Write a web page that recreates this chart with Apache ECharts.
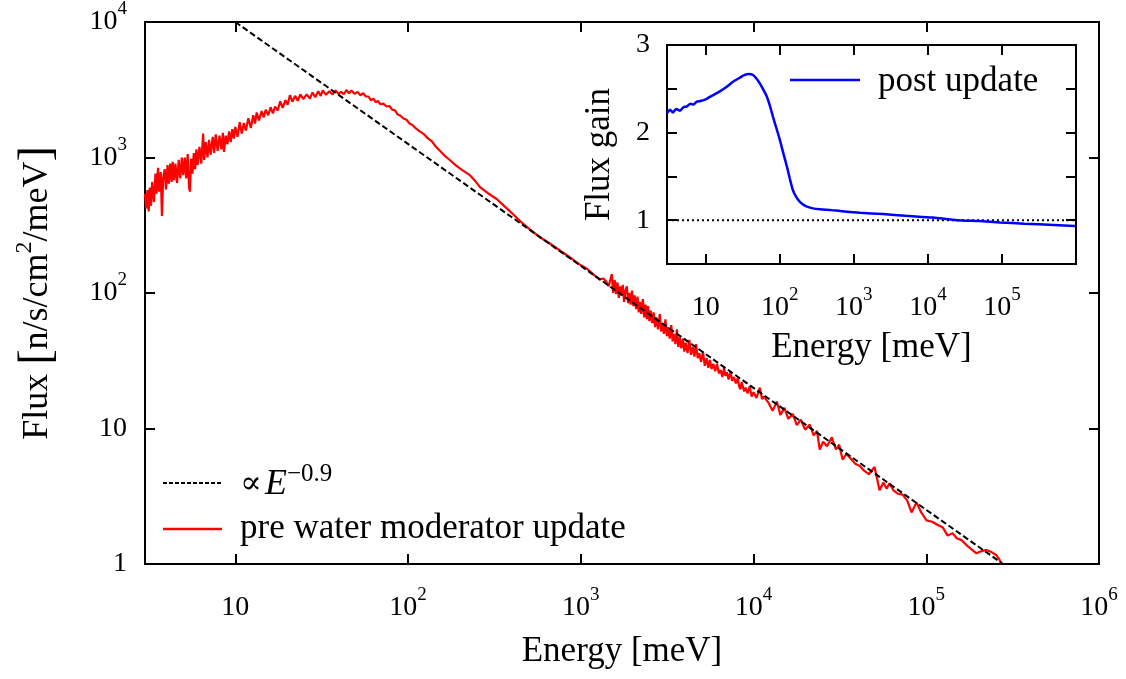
<!DOCTYPE html>
<html><head><meta charset="utf-8">
<script src="https://cdn.jsdelivr.net/npm/echarts@6/dist/echarts.min.js"></script>
<style>html,body{margin:0;padding:0;background:#fff}#c{width:1126px;height:679px}</style>
</head><body><div id="c"></div>
<script>
// ---------- data ----------
// pre-update spectrum, thermal part (3 meV .. 1.35 eV)
const energyPreLow = [3.0,3.05,3.1,3.15,3.2,3.25,3.3,3.38,3.45,3.5,3.57,3.62,3.7,3.76,3.82,3.9,3.97,4.05,4.12,4.2,4.28,4.34,4.42,4.5,4.6,4.7,4.8,4.9,5.0,5.1,5.2,5.3,5.4,5.46,5.55,5.65,5.75,5.85,5.95,6.05,6.2,6.35,6.51,6.6,6.75,6.9,7.05,7.2,7.4,7.55,7.7,7.9,8.1,8.3,8.47,8.6,8.8,9.0,9.2,9.4,9.6,9.8,10.0,10.3,10.6,10.9,11.2,11.5,11.9,12.3,12.7,13.0,13.3,13.7,14.2,14.6,15.0,15.5,16.0,16.5,17.0,17.6,18.2,18.8,19.5,20.1,20.7,21.4,22.2,23.0,23.8,24.7,25.9,27.0,28.0,29.0,30.2,31.2,32.1,
33.5,35,36.5,38,39.5,41,42.5,44,45.5,47,49,51,53,55,57,59,61,63,65,67,69,72,75,78,81,84,87,90,94,98,102,106,111,117,124,130,137,145,153,
163,175,190,205,228,245,261,290,326,365,404,450,507,580,662,756,831,910,988,1086,1200,1289,1350];
const fluxPreLow = [540,420,575,400,600,440,660,470,760,540,840,560,780,370,700,820,580,880,640,900,660,930,680,900,650,960,700,1000,740,1000,700,1060,600,560,980,760,1080,820,1150,880,1200,900,1500,960,1300,1000,1350,1050,1420,1080,1480,1120,1450,1150,1520,1100,1450,1250,1560,1300,1620,1380,1680,1420,1820,1500,1800,1580,1950,1650,2050,1780,2150,1880,2200,1980,2250,2050,2350,2120,2380,2220,2600,2320,2650,2450,2880,2580,2850,2620,2920,2700,2920,2720,3020,2780,3080,2850,3130,
2900,3080,2920,3120,2950,3050,2930,3150,2980,3120,2950,3050,2880,2980,2820,2820,2640,2720,2560,2620,2480,2500,2380,2400,2250,2230,2080,2040,1940,1900,1780,1740,1640,1560,1480,1390,1320,1200,1120,
1030,954,870,810,741,670,605,545,494,432,383,335,295,258,232,206,190,175,162,151,135,126,128];
// epithermal, noisy part (1.4 .. 11.5 eV)
const energyPreMid = [1400,1450,1512,1540,1570,1600,1630,1660,1690,1720,1750,1780,1815,1848,1880,1910,1945,1980,2015,2050,2090,2130,2165,2200,2240,2286,2330,2370,2410,2450,2495,2540,2590,2640,2690,2740,2800,2868,2920,2970,3030,3090,3150,3200,3270,3340,3400,3460,3530,3600,3670,3740,3820,3900,3975,4050,4150,4250,4350,4455,4550,4650,4750,4850,4970,5100,5220,5350,5470,5590,5720,5850,6000,6150,6300,6450,6600,6750,6870,7000,7170,7350,7520,7700,7900,8100,8250,8400,8530,8665,8830,9000,9250,9500,9750,10000,10400,10870,11200,11500];
const fluxPreMid = [122,112,138,100,125,98,120,92,112,96,115,86,105,112,84,100,82,104,80,96,76,94,72,86,70,90,66,82,64,80,62,74,60,72,56,66,54,70,52,60,50,64,48,56,46,58,44,50,42,54,40,47,39,46,37,43,36,45,35,40,34,42,33,36,31,37,29,33,28,32,27.5,30,26.5,30,25.5,27,24,28,24.5,26,23,26.5,22.5,24,21.5,23.5,20.5,19.5,22,22.4,18.8,20,18.2,20.5,17.2,18.5,16.8,20,16.5,17.2];
// high-energy tail (12 .. 273 eV)
const energyPreHigh = [12200,12900,13640,14300,15100,15900,16870,17800,18800,19900,21150,22300,23300,24170,25300,26600,28400,30000,31300,32800,34500,36500,38800,41140,43500,46500,50200,53650,56500,58900,61300,64500,68500,72900,77500,82200,87800,93500,100400,108000,116000,124300,133000,142000,150000,160000,171000,183000,195300,207000,223000,240000,255000,265000,273000];
const fluxPreHigh = [15.5,13.5,15.8,12.6,14.2,11.8,12.8,10.6,11.6,9.8,10.7,8.9,9.6,7.0,8.0,7.4,8.6,7.0,7.6,5.9,6.5,6.0,5.5,5.3,4.9,4.6,5.2,3.5,4.0,3.6,3.95,3.5,3.3,3.25,2.95,2.4,2.85,2.4,2.1,2.05,1.95,1.87,1.62,1.69,1.55,1.5,1.38,1.28,1.2,1.24,1.27,1.22,1.16,1.08,1.0];

// E^-0.9 guide line end points
const energyFit = [10, 278000];
const fluxFit = [10000, 1];

// inset: flux gain after update
const energyGain = [3.0,3.3,3.6,4.0,4.5,5.0,5.6,6.2,6.8,7.5,8.5,10,12,15.5,19,23.3,28,33,38,43,48,54,60,67,74,81,90,100,112,125,137,150,168,187,210,233,280,349,500,650,1210,2475,5000,11700,24650,50000,94000,200000,500000,969000];
const gainPost = [2.22,2.26,2.23,2.27,2.25,2.29,2.30,2.33,2.32,2.35,2.36,2.38,2.42,2.47,2.52,2.58,2.62,2.655,2.67,2.66,2.62,2.56,2.49,2.41,2.30,2.18,2.05,1.92,1.76,1.61,1.47,1.345,1.26,1.21,1.175,1.155,1.135,1.125,1.115,1.105,1.085,1.07,1.05,1.03,1.0,0.99,0.975,0.96,0.945,0.934];

const energyUnity = [3, 1000000];
const gainUnity = [1, 1];

const mainTickExponents = [0, 1, 2, 3, 4, 5, 6];
const insetTickExponents = [1, 2, 3, 4, 5];
const insetGainTicks = [1, 2, 3];

// ---------- styling ----------
const FONT = '"Liberation Serif", "DejaVu Serif", serif';
const rich = {
  b: { fontSize: 28, lineHeight: 44, fontFamily: FONT, color: '#000' },
  s: { fontSize: 19, lineHeight: 22, verticalAlign: 'top', fontFamily: FONT, color: '#000' }
};
function powLabel(allowed) {
  return function (v) {
    const e = Math.log10(v), r = Math.round(e);
    if (Math.abs(e - r) > 1e-6 || allowed.indexOf(r) < 0) return '';
    if (r === 0) return '{b|1}';
    if (r === 1) return '{b|10}';
    return '{b|10}{s|' + r + '}';
  };
}
const zip = (a, b) => a.map((v, i) => [v, b[i]]);
const black = { color: '#000', width: 2 };
const tick = { show: true, inside: true, length: 10, lineStyle: black };

function xAx(grid, pos, labels, extra) {
  return Object.assign({
    gridIndex: grid, type: 'log', min: 3, max: 1e6, position: pos,
    axisLine: { show: true, lineStyle: black }, axisTick: tick, splitLine: { show: false },
    minorTick: { show: false },
    axisLabel: labels ? { show: true, formatter: labels, rich: rich, margin: 22, showMinLabel: false } : { show: false }
  }, extra || {});
}

const preData = zip(energyPreLow, fluxPreLow)
  .concat(zip(energyPreMid, fluxPreMid))
  .concat(zip(energyPreHigh, fluxPreHigh));

const option = {
  animation: false,
  backgroundColor: '#fff',
  grid: [
    { left: 145, top: 19, width: 954, height: 545, show: true, borderColor: '#000', borderWidth: 2, backgroundColor: '#fff' },
    { left: 667, top: 45, width: 409, height: 219, show: true, borderColor: '#000', borderWidth: 2, backgroundColor: '#fff' }
  ],
  xAxis: [
    xAx(0, 'bottom', powLabel(mainTickExponents), {
      name: 'Energy [meV]', nameLocation: 'middle', nameGap: 70,
      nameTextStyle: { fontFamily: FONT, fontSize: 35, color: '#000' }
    }),
    xAx(0, 'top', null),
    xAx(1, 'bottom', powLabel(insetTickExponents), {
      name: 'Energy [meV]', nameLocation: 'middle', nameGap: 66,
      nameTextStyle: { fontFamily: FONT, fontSize: 35, color: '#000' }
    }),
    xAx(1, 'top', null)
  ],
  yAxis: [
    {
      gridIndex: 0, type: 'log', min: 1, max: 1e4, position: 'left',
      axisLine: { show: true, lineStyle: black }, axisTick: tick, splitLine: { show: false },
      axisLabel: { formatter: powLabel([0, 1, 2, 3, 4]), rich: rich, margin: 18 },
      name: '{t|Flux }{br|[}{t|n/s/cm}{s|2}{t|/meV}{br|]}', nameLocation: 'middle', nameGap: 82,
      nameTextStyle: {
        rich: {
          t: { fontFamily: FONT, fontSize: 36, color: '#000', lineHeight: 50 },
          br: { fontFamily: FONT, fontSize: 46, color: '#000', lineHeight: 50 },
          s: { fontFamily: FONT, fontSize: 24, color: '#000', lineHeight: 30, verticalAlign: 'top' }
        }
      }
    },
    {
      gridIndex: 0, type: 'log', min: 1, max: 1e4, position: 'right',
      axisLine: { show: true, lineStyle: black }, axisTick: tick, splitLine: { show: false },
      axisLabel: { show: false }
    },
    {
      gridIndex: 1, type: 'value', min: 0.5, max: 3, interval: 0.5, position: 'left',
      axisLine: { show: true, lineStyle: black }, axisTick: tick, splitLine: { show: false },
      axisLabel: {
        margin: 17, fontFamily: FONT, fontSize: 28, color: '#000',
        formatter: v => (insetGainTicks.indexOf(v) >= 0 ? String(v) : '')
      },
      name: 'Flux gain', nameLocation: 'middle', nameGap: 50,
      nameTextStyle: { fontFamily: FONT, fontSize: 35, color: '#000' }
    },
    {
      gridIndex: 1, type: 'value', min: 0.5, max: 3, interval: 0.5, position: 'right',
      axisLine: { show: true, lineStyle: black }, axisTick: tick, splitLine: { show: false },
      axisLabel: { show: false }
    }
  ],
  series: [
    {
      name: 'pre water moderator update', type: 'line', xAxisIndex: 0, yAxisIndex: 0,
      data: preData, symbol: 'none', smooth: false, sampling: null,
      lineStyle: { color: '#ff0000', width: 2.2 }, z: 3
    },
    {
      name: 'fit', type: 'line', xAxisIndex: 0, yAxisIndex: 0,
      data: zip(energyFit, fluxFit), symbol: 'none',
      lineStyle: { color: '#000', width: 2, type: [6, 3] }, z: 4
    },
    {
      name: 'unity', type: 'line', xAxisIndex: 2, yAxisIndex: 2,
      data: zip(energyUnity, gainUnity), symbol: 'none',
      lineStyle: { color: '#000', width: 2, type: [2, 3] }, z: 3
    },
    {
      name: 'post update', type: 'line', xAxisIndex: 2, yAxisIndex: 2,
      data: zip(energyGain, gainPost), symbol: 'none', smooth: 0.2,
      lineStyle: { color: '#0000ff', width: 2.5 }, z: 4
    }
  ],
  graphic: [
    { type: 'line', shape: { x1: 163, y1: 483, x2: 222, y2: 483 }, style: { stroke: '#000', lineWidth: 2, lineDash: [4, 2] } },
    { type: 'text', x: 240, y: 485, style: {
        text: '{p|∝} {i|E}{s|−0.9}', verticalAlign: 'middle',
        rich: {
          p: { fontFamily: '"DejaVu Serif", serif', fontSize: 32, lineHeight: 46, fill: '#000' },
          i: { fontFamily: FONT, fontSize: 36, lineHeight: 46, fontStyle: 'italic', fill: '#000' },
          s: { fontFamily: FONT, fontSize: 25, lineHeight: 26, verticalAlign: 'top', fill: '#000' }
        } } },
    { type: 'line', shape: { x1: 163, y1: 529, x2: 222, y2: 529 }, style: { stroke: '#ff0000', lineWidth: 2.5 } },
    { type: 'text', x: 240, y: 529, style: { text: 'pre water moderator update', fontFamily: FONT, fontSize: 35, fill: '#000', verticalAlign: 'middle' } },
    { type: 'line', shape: { x1: 790, y1: 80, x2: 860, y2: 80 }, style: { stroke: '#0000ff', lineWidth: 2.5 }, z: 10 },
    { type: 'text', x: 878, y: 82, style: { text: 'post update', fontFamily: FONT, fontSize: 35, fill: '#000', verticalAlign: 'middle' }, z: 10 }
  ]
};
const chart = echarts.init(document.getElementById('c'), null, { renderer: 'canvas' });
chart.setOption(option);
</script>
</body></html>
